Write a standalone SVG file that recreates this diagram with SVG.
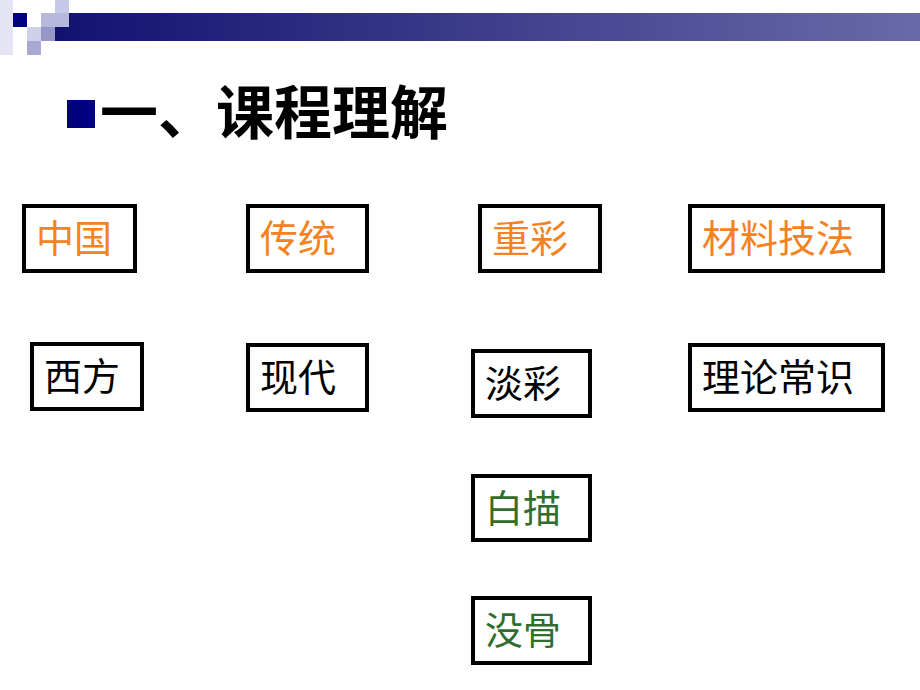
<svg xmlns="http://www.w3.org/2000/svg" width="920" height="690" viewBox="0 0 920 690">
<defs>
<linearGradient id="bar" x1="0" x2="1" y1="0" y2="0"><stop offset="0" stop-color="#101070"/><stop offset="1" stop-color="#6a6aa8"/></linearGradient>
<style>
.box{fill:#fff;stroke:#000;stroke-width:4}
.t{font-family:"Noto Sans CJK SC","Noto Sans",sans-serif;font-size:38px}
.o{fill:#f58220}.k{fill:#000}.g{fill:#2f6e2f}
.lt{fill:#c8c8e8}
</style>
</defs>
<rect width="920" height="690" fill="#fff"/>
<g id="decor">
<rect x="41" y="13" width="879" height="28" fill="url(#bar)"/>
<rect x="0" y="0" width="13" height="55" fill="#e4e4f4"/>
<rect x="55" y="0" width="14" height="27" class="lt"/>
<rect x="41" y="13" width="28" height="14" fill="#b8b8dc"/>
<rect x="27" y="27" width="14" height="14" fill="#d0d0ea"/>
<rect x="41" y="27" width="14" height="14" fill="#9898c8"/>
<rect x="27" y="41" width="14" height="14" fill="#a8a8d4"/>
<rect x="13" y="13" width="14" height="14" fill="#000080"/>
</g>
<g id="title">
<rect x="67" y="100" width="28" height="28" fill="#000080"/>
<text x="100" y="134" font-family="Noto Sans CJK SC,sans-serif" font-size="58" font-weight="bold">一、课程理解</text>
</g>
<g id="n1"><rect class="box" x="24" y="206" width="111" height="65"/><text class="t o" x="36" y="252">中国</text></g>
<g id="n2"><rect class="box" x="248" y="206" width="119" height="65"/><text class="t o" x="260" y="252">传统</text></g>
<g id="n3"><rect class="box" x="480" y="206" width="120" height="65"/><text class="t o" x="492" y="252">重彩</text></g>
<g id="n4"><rect class="box" x="690" y="206" width="193" height="65"/><text class="t o" x="702" y="252">材料技法</text></g>
<g id="n5"><rect class="box" x="32" y="344" width="110" height="65"/><text class="t k" x="44" y="390">西方</text></g>
<g id="n6"><rect class="box" x="248" y="345" width="119" height="65"/><text class="t k" x="260" y="391">现代</text></g>
<g id="n7"><rect class="box" x="473" y="351" width="117" height="65"/><text class="t k" x="485" y="397">淡彩</text></g>
<g id="n8"><rect class="box" x="690" y="345" width="193" height="65"/><text class="t k" x="702" y="391">理论常识</text></g>
<g id="n9"><rect class="box" x="473" y="476" width="117" height="64"/><text class="t g" x="485" y="522">白描</text></g>
<g id="n10"><rect class="box" x="473" y="598" width="117" height="65"/><text class="t g" x="485" y="644">没骨</text></g>
<g id="connectors"/>
</svg>
